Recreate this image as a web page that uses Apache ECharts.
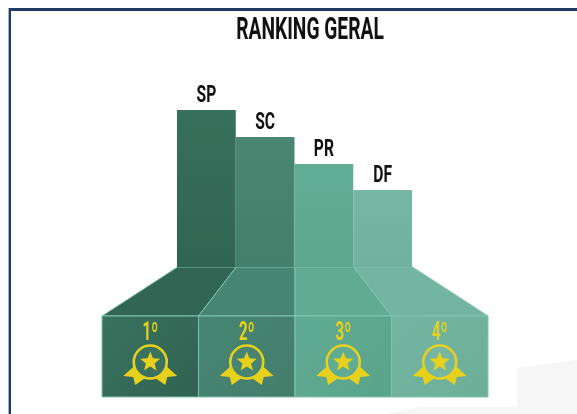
<!DOCTYPE html>
<html>
<head>
<meta charset="utf-8">
<style>html,body{margin:0;padding:0;background:#fff}#c{width:577px;height:414px}</style>
<script src="https://cdn.jsdelivr.net/npm/echarts@6/dist/echarts.min.js"></script>
</head>
<body>
<div id="c"></div>
<script>
var titleText = 'RANKING GERAL';
var categories = ['SP', 'SC', 'PR', 'DF'];
var values = [157, 130, 103, 77];
var ranks = ['1º', '2º', '3º', '4º'];
var barTop = ['#37705c', '#4a8672', '#62ad95', '#76b6a2'];
var barEnd = ['#316553', '#447f6c', '#5ea78f', '#72b19d'];
var neckFill = ['#316554', '#478471', '#61ab93', '#74b5a1'];
var boxStart = ['#397260', '#478572', '#60ab93', '#75b6a2'];
var boxEnd = ['#306251', '#437e6b', '#5ba48c', '#6dae99'];

var FONT = 'Roboto, sans-serif';
var YELLOW = '#e8d11c';
var SEAM = '#80c4ae';
var BOX_LEVEL = 81, NECK_LEVEL = 130, MEDAL_LEVEL = 35, RANK_LEVEL = 64;
var NECK_RATIO = 235 / 386;

function neckX(i) { return 2 + (i - 2) * NECK_RATIO; }

function starPoints(cx, cy, R, r) {
  var pts = [];
  for (var k = 0; k < 10; k++) {
    var a = -Math.PI / 2 + k * Math.PI / 5, d = k % 2 ? r : R;
    pts.push([cx + d * Math.cos(a), cy + d * Math.sin(a)]);
  }
  return pts;
}
function ribbon(cx, cy, s) {
  return [[cx + s * 27, cy + 14], [cx + s * 17, cy + 5], [cx + s * 5, cy + 16], [cx + s * 15, cy + 23], [cx + s * 17, cy + 15]];
}

function renderPodium(params, api) {
  var i = api.value(0);
  var a = api.coord([i, 0]), b = api.coord([i + 1, BOX_LEVEL]);
  var n0 = api.coord([neckX(i), NECK_LEVEL]), n1 = api.coord([neckX(i + 1), NECK_LEVEL]);
  var m = api.coord([i + 0.5, MEDAL_LEVEL]), t = api.coord([i + 0.5, RANK_LEVEL]);
  var seam = { stroke: SEAM, lineWidth: 1 };
  return {
    type: 'group',
    children: [
      { type: 'polygon', shape: { points: [n0, n1, [b[0], b[1]], [a[0], b[1]]] },
        style: Object.assign({ fill: neckFill[i] }, seam) },
      { type: 'rect', shape: { x: a[0], y: b[1], width: b[0] - a[0], height: a[1] - b[1] },
        style: { fill: new echarts.graphic.LinearGradient(0, 0, 1, 1, [
          { offset: 0, color: boxStart[i] }, { offset: 1, color: boxEnd[i] }]), stroke: SEAM, lineWidth: 1 } },
      { type: 'polygon', shape: { points: ribbon(m[0], m[1], -1) }, style: { fill: YELLOW } },
      { type: 'polygon', shape: { points: ribbon(m[0], m[1], 1) }, style: { fill: YELLOW } },
      { type: 'circle', shape: { cx: m[0], cy: m[1], r: 16.5 }, style: { fill: boxStart[i], stroke: YELLOW, lineWidth: 2.6 } },
      { type: 'polygon', shape: { points: starPoints(m[0], m[1], 10.5, 4.6) }, style: { fill: YELLOW } },
      { type: 'text', x: t[0], y: t[1], scaleX: 0.58,
        style: { text: ranks[i], fill: YELLOW, font: 'bold 26px ' + FONT, align: 'center', verticalAlign: 'middle' } }
    ]
  };
}

function renderBarLabel(params, api) {
  var i = api.value(0);
  var p = api.coord([categories[i], values[i]]);
  return { type: 'text', x: p[0], y: p[1] - 14, scaleX: 0.68,
    style: { text: categories[i], fill: '#111111', font: 'bold 23px ' + FONT, align: 'center', verticalAlign: 'middle' } };
}

var chart = echarts.init(document.getElementById('c'), null, { renderer: 'canvas' });
chart.setOption({
  animation: false,
  backgroundColor: '#ffffff',
  tooltip: { show: false },
  graphic: [
    { type: 'polygon', z: 0, shape: { points: [[385, 414], [420, 407], [517, 407], [517, 368], [577, 360], [577, 414]] }, style: { fill: '#f6f6f6' } },
    { type: 'rect', z: 0, shape: { x: 8, y: 8, width: 1, height: 406 }, style: { fill: '#aab3c2' } },
    { type: 'rect', z: 0, shape: { x: 9, y: 8, width: 2, height: 406 }, style: { fill: '#1f3a63' } },
    { type: 'rect', z: 0, shape: { x: 9, y: 8, width: 568, height: 3 }, style: { fill: '#1f3a63' } },
    { type: 'text', z: 5, x: 310, y: 31.5, scaleX: 0.62,
      style: { text: titleText, fill: '#111111', font: 'bold 31px ' + FONT, align: 'center', verticalAlign: 'middle' } }
  ],
  grid: [
    { left: 177, width: 235, top: 110, height: 157 },
    { left: 102, width: 386, top: 267, height: 130 }
  ],
  xAxis: [
    { type: 'category', gridIndex: 0, data: categories, show: false },
    { type: 'value', gridIndex: 1, min: 0, max: 4, show: false }
  ],
  yAxis: [
    { type: 'value', gridIndex: 0, min: 0, max: 157, show: false },
    { type: 'value', gridIndex: 1, min: 0, max: NECK_LEVEL, show: false }
  ],
  series: [
    { type: 'bar', xAxisIndex: 0, yAxisIndex: 0, barWidth: '100%',
      data: values.map(function (v, i) {
        return { value: v, itemStyle: { color: new echarts.graphic.LinearGradient(0, 0, 0, 1, [
          { offset: 0, color: barTop[i] }, { offset: 1, color: barEnd[i] }]) } };
      }) },
    { type: 'custom', xAxisIndex: 0, yAxisIndex: 0, renderItem: renderBarLabel, clip: false,
      data: categories.map(function (c, i) { return [i]; }) },
    { type: 'custom', xAxisIndex: 1, yAxisIndex: 1, renderItem: renderPodium, clip: false,
      encode: { x: 0 }, data: categories.map(function (c, i) { return [i]; }) }
  ]
});
</script>
</body>
</html>
